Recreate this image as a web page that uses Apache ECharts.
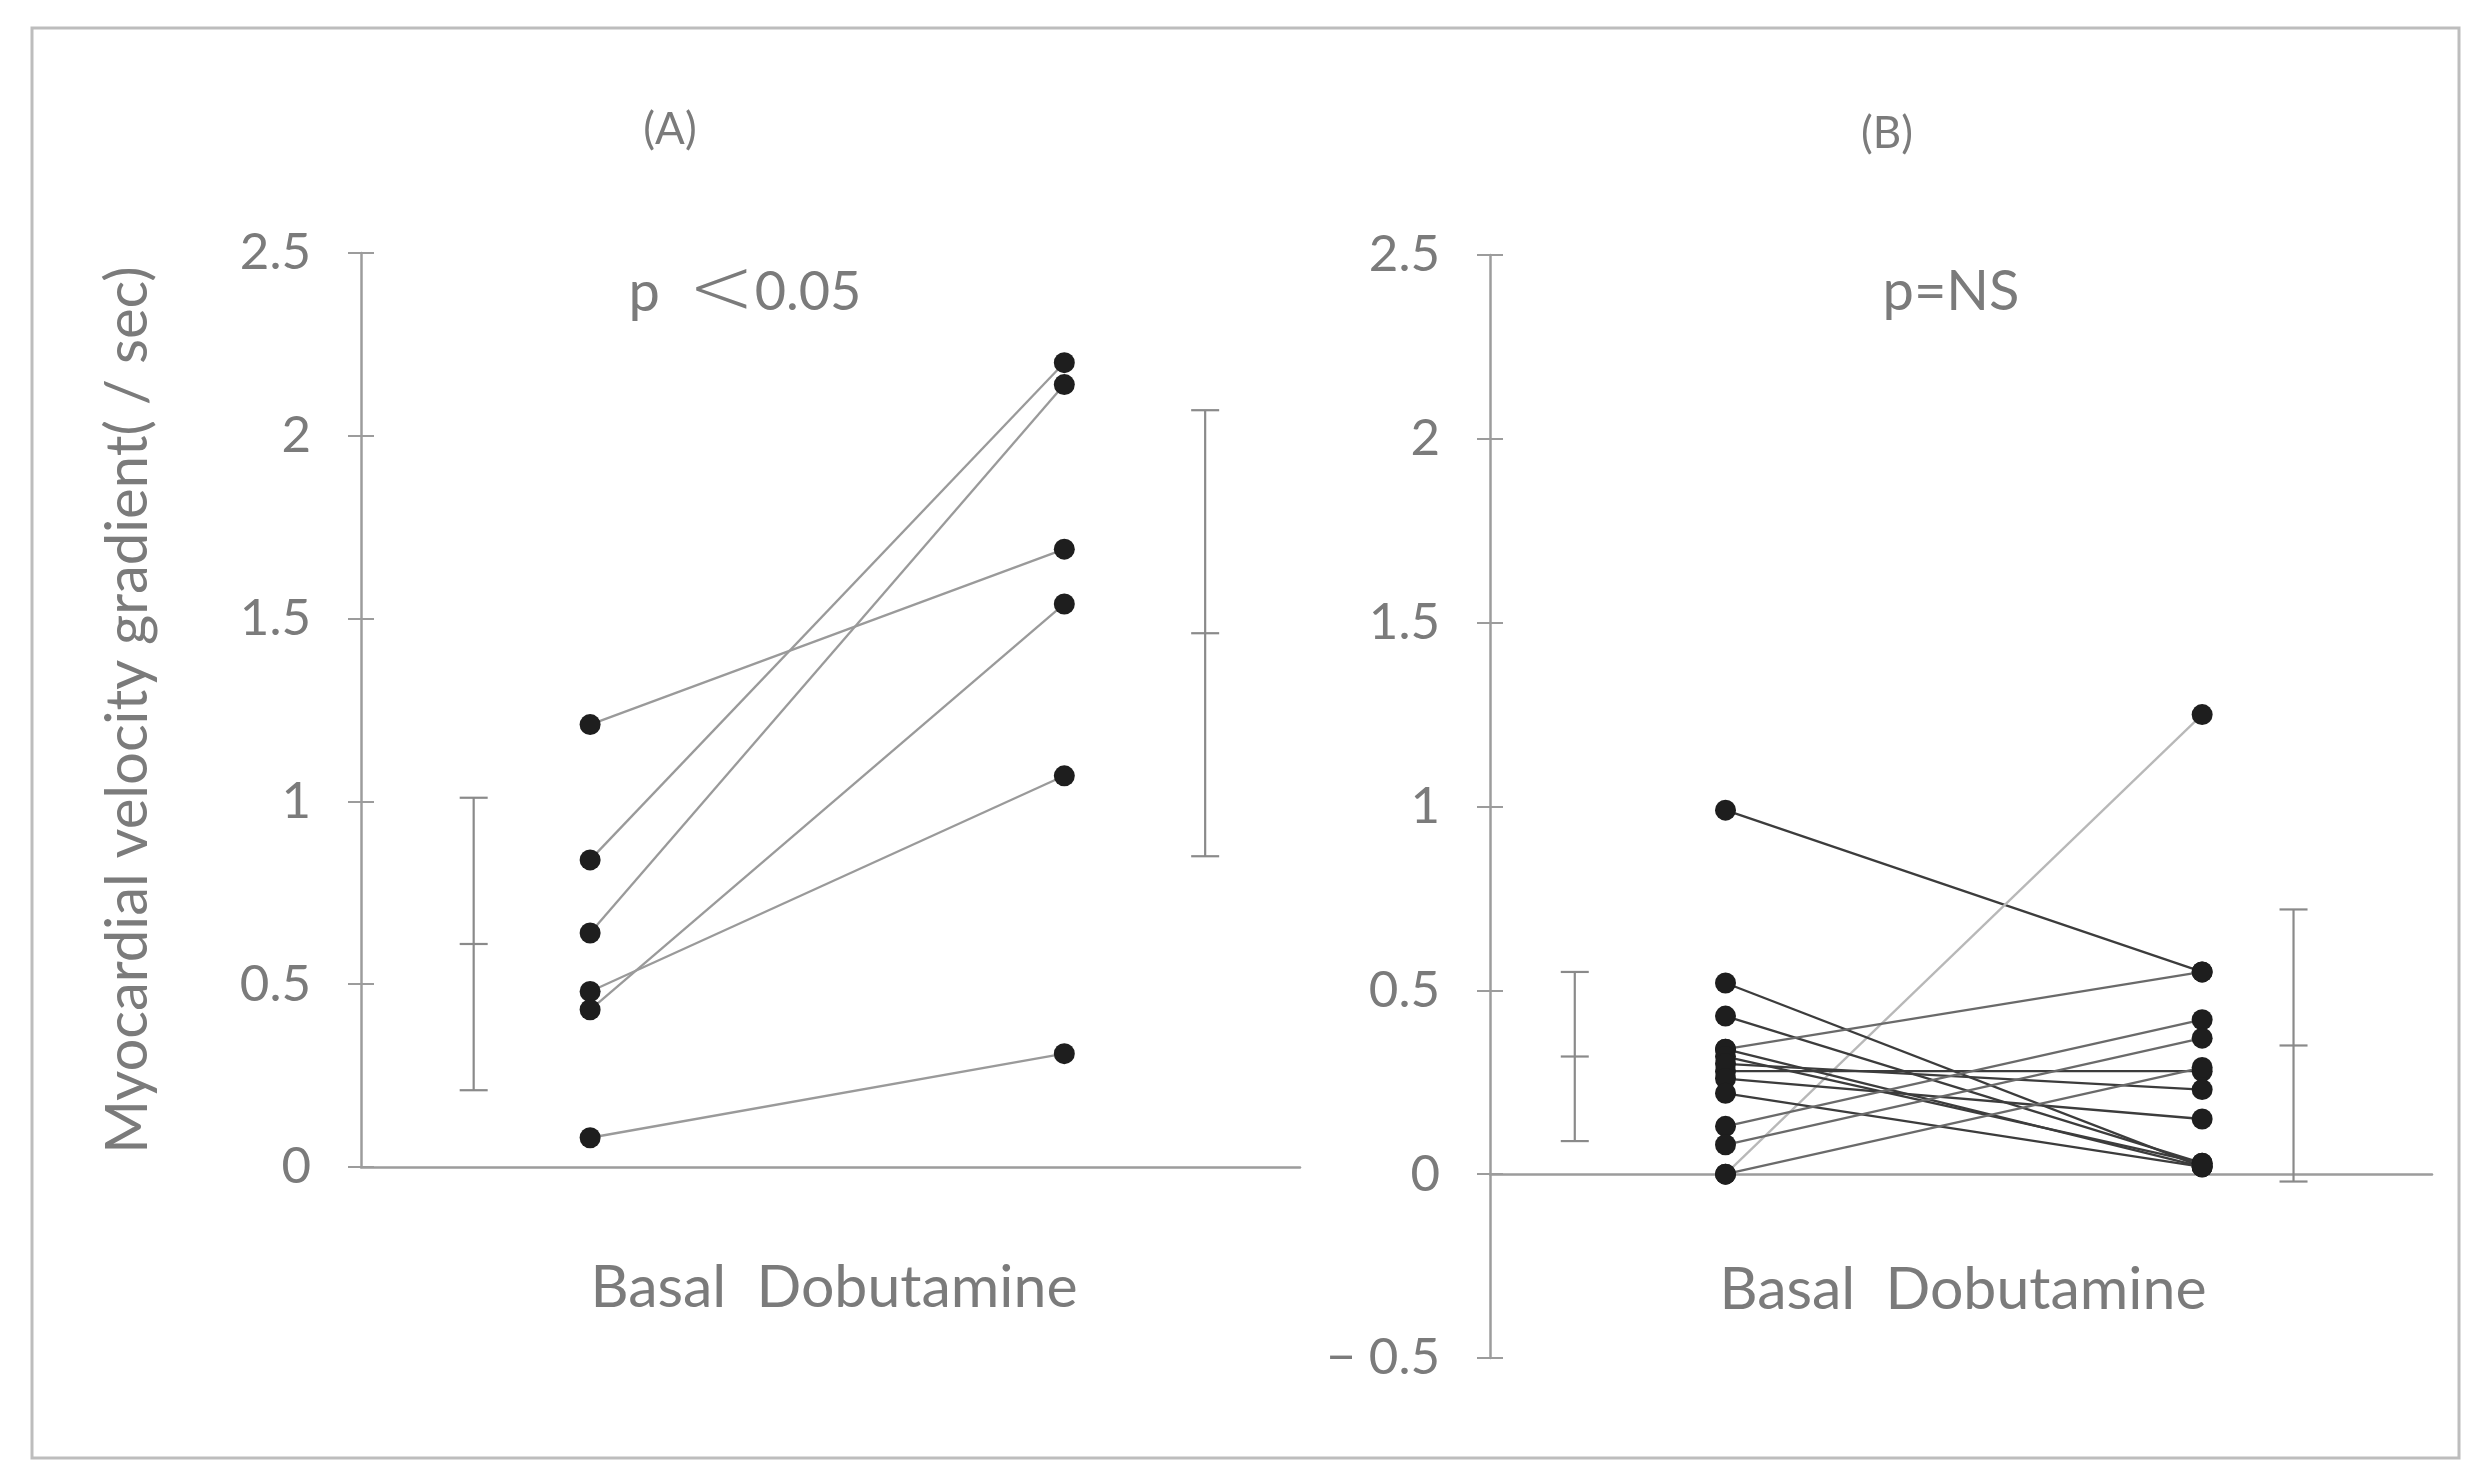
<!DOCTYPE html>
<html>
<head>
<meta charset="utf-8">
<script src="https://cdn.jsdelivr.net/npm/echarts@6/dist/echarts.min.js"></script>
<style>
  html, body { margin: 0; padding: 0; background: #ffffff; }
  #chart { width: 2480px; height: 1483px; }
</style>
</head>
<body>
<div id="chart"></div>
<script>
// ---------------- Data ----------------
// Panel A (p < 0.05): paired values, Basal -> Dobutamine
const basalA = [1.21, 0.84, 0.64, 0.48, 0.43, 0.08];
const dobA   = [1.69, 2.20, 2.14, 1.07, 1.54, 0.31];
// Panel A summary (mean, sd): [Basal, Dobutamine]
const meanA = [0.61, 1.46];
const sdA   = [0.40, 0.61];

// Panel B (p = NS): paired values, Basal -> Dobutamine
const basalB = [0.99, 0.00, 0.52, 0.43, 0.34, 0.34, 0.32, 0.28, 0.30, 0.26, 0.22, 0.13, 0.08, 0.00];
const dobB   = [0.55, 1.25, 0.02, 0.03, 0.55, 0.02, 0.03, 0.28, 0.23, 0.15, 0.02, 0.42, 0.37, 0.29];
// Panel B summary (mean, sd): [Basal, Dobutamine]
const meanB = [0.32, 0.35];
const sdB   = [0.23, 0.37];

// Axis ticks
const yTicksA = { min: 0, max: 2.5, interval: 0.5 };
const yTicksB = { min: -0.5, max: 2.5, interval: 0.5 };

// Texts
const yAxisTitle = 'Myocardial velocity gradient( / sec)';
const groupLabel = 'Basal  Dobutamine';
const panelTitles = ['(A)', '(B)'];
const pTextA = ['p', '<', '0.05'];
const pTextB = 'p=NS';

// ---------------- Layout / style ----------------
const TXT = '#7b7b7b';
const AX = '#9c9c9c';
const FONT = 'Lato, "Open Sans", sans-serif';
// horizontal slot positions on a hidden 0..10 value axis
const slotsA = { errBasal: 1.2, basal: 2.44, dob: 7.49, errDob: 8.99 };
const slotsB = { errBasal: 0.9, basal: 2.5, dob: 7.56, errDob: 8.53 };

const chart = echarts.init(document.getElementById('chart'), null, { renderer: 'canvas' });

function pairSeries(basal, dob, slots, gridIdx, colorFn) {
  return basal.map((b, i) => ({
    type: 'line',
    xAxisIndex: gridIdx,
    yAxisIndex: gridIdx * 2,
    data: [[slots.basal, b], [slots.dob, dob[i]]],
    symbol: 'circle',
    symbolSize: 21,
    showSymbol: true,
    itemStyle: { color: '#1e1e1e', borderWidth: 0 },
    lineStyle: { color: colorFn(i, b, dob[i]), width: 2.3 },
    z: 3,
    silent: true,
    animation: false
  }));
}

function errSeries(means, sds, slots, gridIdx) {
  return {
    type: 'custom',
    xAxisIndex: gridIdx,
    yAxisIndex: gridIdx * 2,
    clip: false,
    silent: true,
    animation: false,
    data: [[slots.errBasal, means[0], sds[0]], [slots.errDob, means[1], sds[1]]],
    renderItem: function (params, api) {
      const x = api.value(0), m = api.value(1), s = api.value(2);
      const top = api.coord([x, m + s]);
      const mid = api.coord([x, m]);
      const bot = api.coord([x, m - s]);
      const hw = 14;
      const st = { stroke: '#8a8a8a', lineWidth: 2.2 };
      return {
        type: 'group',
        children: [
          { type: 'line', shape: { x1: top[0], y1: top[1], x2: bot[0], y2: bot[1] }, style: st },
          { type: 'line', shape: { x1: top[0] - hw, y1: top[1], x2: top[0] + hw, y2: top[1] }, style: st },
          { type: 'line', shape: { x1: bot[0] - hw, y1: bot[1], x2: bot[0] + hw, y2: bot[1] }, style: st },
          { type: 'line', shape: { x1: mid[0] - hw, y1: mid[1], x2: mid[0] + hw, y2: mid[1] }, style: st }
        ]
      };
    }
  };
}

function yAxes(ticks, gridIdx, withName) {
  const main = {
    type: 'value',
    gridIndex: gridIdx,
    position: 'left',
    min: ticks.min, max: ticks.max, interval: ticks.interval,
    axisLine: { show: true, onZero: false, lineStyle: { color: AX, width: 2.5 } },
    axisTick: { show: true, inside: false, length: 13, lineStyle: { color: AX, width: 2 } },
    axisLabel: {
      show: true, margin: 50, color: TXT, fontSize: 51, fontFamily: FONT,
      formatter: v => (v < 0 ? '\u2212 ' + Math.abs(v) : String(v))
    },
    splitLine: { show: false }
  };
  if (withName) {
    main.name = yAxisTitle;
    main.nameLocation = 'middle';
    main.nameGap = 204;
    main.nameTextStyle = { color: TXT, fontSize: 58, fontFamily: FONT };
  }
  const inner = {
    type: 'value',
    gridIndex: gridIdx,
    position: 'left',
    min: ticks.min, max: ticks.max, interval: ticks.interval,
    axisLine: { show: false, onZero: false },
    axisTick: { show: true, inside: true, length: 13, lineStyle: { color: AX, width: 2 } },
    axisLabel: { show: false },
    splitLine: { show: false }
  };
  return [main, inner];
}

function xAxis(gridIdx) {
  return {
    type: 'value', gridIndex: gridIdx, min: 0, max: 10,
    axisLine: { show: true, onZero: true, lineStyle: { color: AX, width: 2.5 } },
    axisTick: { show: false }, axisLabel: { show: false }, splitLine: { show: false }
  };
}

function txt(x, y, text, size) {
  return {
    type: 'text', x: x, y: y, silent: true,
    style: { text: text, fill: TXT, font: size + 'px ' + FONT, textAlign: 'center', textVerticalAlign: 'middle' }
  };
}

const option = {
  backgroundColor: '#ffffff',
  animation: false,
  grid: [
    { left: 361, top: 253, width: 939, height: 914 },
    { left: 1490, top: 255, width: 942, height: 1103 }
  ],
  xAxis: [xAxis(0), xAxis(1)],
  yAxis: [...yAxes(yTicksA, 0, true), ...yAxes(yTicksB, 1, false)],
  series: [
    ...pairSeries(basalA, dobA, slotsA, 0, () => '#9a9a9a'),
    errSeries(meanA, sdA, slotsA, 0),
    ...pairSeries(basalB, dobB, slotsB, 1, (i, b, d) => (d - b > 0.8 ? '#b8b8b8' : (d > b ? '#6a6a6a' : '#3c3c3c'))),
    errSeries(meanB, sdB, slotsB, 1)
  ],
  graphic: [
    {
      type: 'rect', silent: true, z: -1,
      shape: { x: 32, y: 28, width: 2427, height: 1430 },
      style: { fill: 'none', stroke: '#bdbdbd', lineWidth: 3 }
    },
    txt(670, 130, panelTitles[0], 44),
    txt(1887, 134, panelTitles[1], 44),
    {
      type: 'text', x: 745, y: 293, silent: true,
      style: {
        text: '{p|' + pTextA[0] + '}  {lt|' + pTextA[1] + '}{n|' + pTextA[2] + '}',
        fill: TXT, textAlign: 'center', textVerticalAlign: 'middle',
        font: '54px ' + FONT,
        rich: {
          p: { fontSize: 56, fontFamily: FONT, fill: TXT },
          lt: { fontSize: 80, fontFamily: 'DejaVu Sans, sans-serif', fontWeight: 200, fill: TXT },
          n: { fontSize: 54, fontFamily: FONT, fill: TXT }
        }
      }
    },
    txt(1951, 292, pTextB, 56),
    txt(834, 1288, groupLabel, 59),
    txt(1963, 1290, groupLabel, 59)
  ]
};

chart.setOption(option);
</script>
</body>
</html>
